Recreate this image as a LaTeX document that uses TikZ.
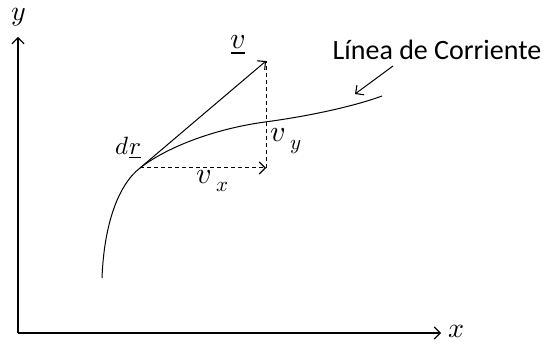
\documentclass[tikz,border=0pt]{standalone}
\usepackage{fontspec}
\usepackage{unicode-math}
\setmathfont{Latin Modern Math}
\newfontfamily\calib{Carlito}
\usetikzlibrary{arrows.meta}
\begin{document}
\begin{tikzpicture}[x=1pt,y=-1pt,
  line/.style={line width=1.1pt,black},
  tip/.style={-{Straight Barb[length=6pt,width=12pt,line width=1.1pt]}},
  mathlbl/.style={inner sep=0pt,font=\fontsize{30}{32}\selectfont},
  dashline/.style={dashed,dash pattern=on 4pt off 3pt}]
\useasboundingbox (0,0) rectangle (545,347);
% axes
\coordinate (O) at (18,333);
\coordinate (Y) at (18,37);
\coordinate (X) at (441,333);
\draw[line,tip] (O) -- (Y);
\draw[line,tip] (O) -- (X);
\node[mathlbl,font=\fontsize{28}{30}\selectfont] (ylbl) at (19,17) {$y$};
\node[mathlbl,font=\fontsize{28}{30}\selectfont] (xlbl) at (456,331) {$x$};
% streamline
\coordinate (A) at (140,168);
\draw[line width=1pt] (102,278) .. controls (104,225) and (118,185) .. (A)
  .. controls (170,144.8) and (220,128) .. (265,122)
  .. controls (310,116) and (355,106) .. (382,96);
% vectors
\coordinate (V) at (266,61);
\coordinate (VX) at (266,168);
\draw[line width=1pt,tip] (A) -- (V);
\draw[line width=1pt,dashline,tip] (A) -- (VX);
\draw[line width=1pt,dashline] (VX) -- (V);
% labels
\node[mathlbl] (vlbl) at (238,45) {$\underline{v}$};
\node[mathlbl,font=\fontsize{25}{27}\selectfont] (drlbl) at (128,148) {$d\underline{r}$};
\node[mathlbl] (vxlbl) at (213,181) {$v_{\;x}$};
\node[mathlbl] (vylbl) at (286,141) {$v_{\;y}$};
\node[inner sep=0pt,font=\calib\fontsize{28}{30}\selectfont] (lc) at (437,50) {Línea de Corriente};
\coordinate (LS) at (393,66);
\coordinate (LC) at (355,94);
\draw[line width=1pt,tip] (LS) -- (LC);
\end{tikzpicture}
\end{document}
